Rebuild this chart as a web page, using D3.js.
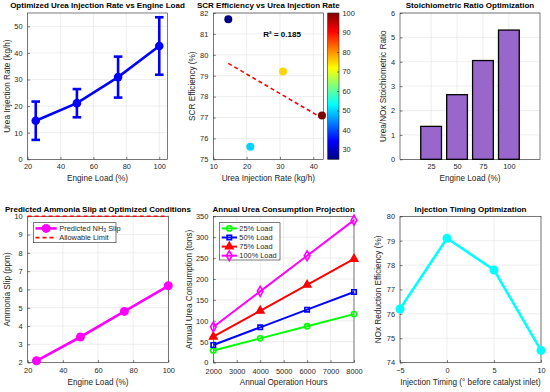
<!DOCTYPE html>
<html>
<head>
<meta charset="utf-8">
<script src="https://cdn.jsdelivr.net/npm/d3@7"></script>
<style>
  body { margin: 0; background: #fff; }
  svg { display: block; font-family: "Liberation Sans", Arial, sans-serif; }
</style>
</head>
<body>
<div id="fig"></div>
<script>
// data
const loads = [25, 50, 75, 100];
const ureaRate = [14.5, 21.1, 30.9, 42.6];
const ureaErr = [7.2, 5.3, 7.7, 10.8];
const scrEff = [81.7, 75.6, 79.2, 77.1];
const stoichRatio = [1.35, 2.65, 4.05, 5.3];
const nh3Slip = [2.1, 3.4, 4.8, 6.2];
const slipLimit = 10;
const opHours = [2000, 4000, 6000, 8000];
const cons25 = [29, 58, 87, 116];
const cons50 = [42.2, 84.4, 126.6, 168.8];
const cons75 = [62, 124, 186, 248];
const cons100 = [85.2, 170.4, 255.6, 340.8];
const timing = [-5, 0, 5, 10];
const timingEff = [76.2, 79.1, 77.8, 74.5];

const W = 550, H = 392;
const svg = d3.select('#fig').append('svg').attr('width', W).attr('height', H);
svg.append('rect').attr('width', W).attr('height', H).attr('fill', '#fff');

const axisCol = '#262626', gridCol = '#e3e3e3';

// one MATLAB-like axes box
function panel(o) {
  const g = svg.append('g');
  const x = d3.scaleLinear().domain(o.xDom).range([o.left, o.left + o.w]);
  const y = d3.scaleLinear().domain(o.yDom).range([o.top + o.h, o.top]);

  g.selectAll('line.gx').data(o.xTicks).join('line')
    .attr('x1', d => x(d)).attr('x2', d => x(d))
    .attr('y1', o.top).attr('y2', o.top + o.h)
    .attr('stroke', gridCol).attr('stroke-width', 0.6);
  g.selectAll('line.gy').data(o.yTicks).join('line')
    .attr('y1', d => y(d)).attr('y2', d => y(d))
    .attr('x1', o.left).attr('x2', o.left + o.w)
    .attr('stroke', gridCol).attr('stroke-width', 0.6);

  const ax = g.append('g').attr('transform', `translate(0,${o.top + o.h})`)
    .call(d3.axisBottom(x).tickValues(o.xTicks).tickFormat(o.xFmt || (d => d))
      .tickSizeInner(-2.5).tickSizeOuter(0).tickPadding(o.xPad || 4.8));
  const ay = g.append('g').attr('transform', `translate(${o.left},0)`)
    .call(d3.axisLeft(y).tickValues(o.yTicks).tickFormat(d => d)
      .tickSizeInner(-2.5).tickSizeOuter(0).tickPadding(5));
  [ax, ay].forEach(a => {
    a.select('.domain').remove();
    a.attr('font-family', null);
    a.selectAll('line').attr('stroke', axisCol).attr('stroke-width', 0.6);
    a.selectAll('text').attr('fill', axisCol).attr('font-size', 7.4);
  });

  g.append('rect').attr('x', o.left).attr('y', o.top).attr('width', o.w).attr('height', o.h)
    .attr('fill', 'none').attr('stroke', axisCol).attr('stroke-width', 0.6);

  svg.append('text').attr('x', o.left + o.w / 2).attr('y', o.top - 4.6)
    .attr('text-anchor', 'middle').attr('font-size', 8).attr('font-weight', 'bold')
    .attr('fill', '#000').text(o.title);
  svg.append('text').attr('x', o.left + o.w / 2).attr('y', o.top + o.h + 22)
    .attr('text-anchor', 'middle').attr('font-size', 8.2).attr('fill', axisCol).text(o.xLabel);
  svg.append('text')
    .attr('transform', `translate(${o.left - o.yLabOff},${o.top + o.h / 2}) rotate(-90)`)
    .attr('text-anchor', 'middle').attr('font-size', 8.2).attr('fill', axisCol).text(o.yLabel);

  const plot = svg.append('g');
  return {x, y, g: plot};
}

const topY = 13, botY = 216.3, ph = 146.3;
const line = (x, y) => d3.line().x(d => x(d[0])).y(d => y(d[1]));

// 1. urea injection rate with error bars
{
  const p = panel({left: 27.5, top: topY, w: 140, h: ph, xDom: [20, 105], yDom: [0, 55],
    xTicks: [20, 40, 60, 80, 100], yTicks: [0, 10, 20, 30, 40, 50],
    title: 'Optimized Urea Injection Rate vs Engine Load', xLabel: 'Engine Load (%)',
    yLabel: 'Urea Injection Rate (kg/h)', yLabOff: 17.5});
  const pts = loads.map((l, i) => [l, ureaRate[i], ureaErr[i]]);
  const c = '#0000ff';
  p.g.append('path').datum(pts).attr('d', line(p.x, p.y)).attr('fill', 'none')
    .attr('stroke', c).attr('stroke-width', 2.6);
  const eb = p.g.selectAll('g.eb').data(pts).join('g');
  eb.append('line').attr('x1', d => p.x(d[0])).attr('x2', d => p.x(d[0]))
    .attr('y1', d => p.y(d[1] - d[2])).attr('y2', d => p.y(d[1] + d[2]))
    .attr('stroke', c).attr('stroke-width', 2.6);
  [-1, 1].forEach(s => eb.append('line')
    .attr('x1', d => p.x(d[0]) - 4.3).attr('x2', d => p.x(d[0]) + 4.3)
    .attr('y1', d => p.y(d[1] + s * d[2])).attr('y2', d => p.y(d[1] + s * d[2]))
    .attr('stroke', c).attr('stroke-width', 2.6));
  eb.append('circle').attr('cx', d => p.x(d[0])).attr('cy', d => p.y(d[1])).attr('r', 4.3)
    .attr('fill', c);
}

// 2. SCR efficiency scatter with colorbar and trend
{
  const p = panel({left: 213.3, top: topY, w: 110, h: ph, xDom: [10, 43], yDom: [75, 82],
    xTicks: [10, 20, 30, 40], yTicks: [75, 76, 77, 78, 79, 80, 81, 82],
    title: 'SCR Efficiency vs Urea Injection Rate', xLabel: 'Urea Injection Rate (kg/h)',
    yLabel: 'SCR Efficiency (%)', yLabOff: 18.3});
  const jetStops = [0, 0.125, 0.375, 0.625, 0.875, 1];
  const jetCols = ['#000080', '#0000ff', '#00ffff', '#ffff00', '#ff0000', '#800000'];
  const jet = d3.scaleLinear().domain(jetStops).range(jetCols);
  const cScale = d3.scaleLinear().domain([25, 100]).range([0, 1]);
  const pts = ureaRate.map((r, i) => [r, scrEff[i], loads[i]]);

  // least squares trend from the points
  const mx = d3.mean(ureaRate), my = d3.mean(scrEff);
  const sxy = d3.sum(pts, d => (d[0] - mx) * (d[1] - my));
  const sxx = d3.sum(pts, d => (d[0] - mx) ** 2);
  const syy = d3.sum(pts, d => (d[1] - my) ** 2);
  const k = sxy / sxx, r2 = sxy * sxy / (sxx * syy);
  const ext = d3.extent(ureaRate);
  p.g.append('path').datum(ext.map(v => [v, my + k * (v - mx)]))
    .attr('d', line(p.x, p.y)).attr('stroke', '#ff0000').attr('stroke-width', 1.6)
    .attr('stroke-dasharray', '4,3').attr('fill', 'none');
  p.g.selectAll('circle').data(pts).join('circle')
    .attr('cx', d => p.x(d[0])).attr('cy', d => p.y(d[1])).attr('r', 4)
    .attr('fill', d => jet(cScale(d[2])));
  p.g.append('text').attr('x', p.x(25)).attr('y', p.y(81)).attr('dy', '0.35em')
    .attr('font-size', 8).attr('font-weight', 'bold').attr('fill', '#000')
    .text('R² = ' + d3.format('.3f')(r2));

  // colorbar
  const cbX = 327.7, cbW = 11.3;
  const cbY = d3.scaleLinear().domain([25, 100]).range([topY + ph, topY]);
  const grad = svg.append('defs').append('linearGradient').attr('id', 'jet')
    .attr('x1', 0).attr('x2', 0).attr('y1', 1).attr('y2', 0);
  grad.selectAll('stop').data(jetStops).join('stop')
    .attr('offset', d => d).attr('stop-color', (d, i) => jetCols[i]);
  svg.append('rect').attr('x', cbX).attr('y', topY).attr('width', cbW).attr('height', ph)
    .attr('fill', 'url(#jet)').attr('stroke', axisCol).attr('stroke-width', 0.6);
  const cb = svg.append('g').attr('transform', `translate(${cbX + cbW},0)`)
    .call(d3.axisRight(cbY).tickValues([30, 40, 50, 60, 70, 80, 90, 100])
      .tickSizeInner(-2).tickSizeOuter(0).tickPadding(3.5));
  cb.select('.domain').remove();
  cb.attr('font-family', null);
  cb.selectAll('line').attr('stroke', axisCol).attr('stroke-width', 0.6);
  cb.selectAll('text').attr('fill', axisCol).attr('font-size', 7.4);
}

// 3. stoichiometric ratio bars
{
  const p = panel({left: 400, top: topY, w: 140, h: ph, xDom: [-5, 130], yDom: [0, 6],
    xTicks: loads, yTicks: [0, 1, 2, 3, 4, 5, 6],
    title: 'Stoichiometric Ratio Optimization', xLabel: 'Engine Load (%)',
    yLabel: 'Urea/NOx Stoichiometric Ratio', yLabOff: 14.3});
  const bw = p.x(20) - p.x(0);
  p.g.selectAll('rect').data(loads.map((l, i) => [l, stoichRatio[i]])).join('rect')
    .attr('x', d => p.x(d[0]) - bw / 2).attr('width', bw)
    .attr('y', d => p.y(d[1])).attr('height', d => p.y(0) - p.y(d[1]))
    .attr('fill', '#9966cc').attr('stroke', '#000').attr('stroke-width', 1.3);
}

// 4. ammonia slip
{
  const p = panel({left: 27.7, top: botY, w: 140.6, h: ph, xDom: [20, 100], yDom: [2, 10],
    xTicks: [20, 40, 60, 80, 100], yTicks: [2, 3, 4, 5, 6, 7, 8, 9, 10],
    title: 'Predicted Ammonia Slip at Optimized Conditions', xLabel: 'Engine Load (%)',
    yLabel: 'Ammonia Slip (ppm)', yLabOff: 17.7});
  const c = '#ff00ff';
  p.g.append('line').attr('x1', p.x(20)).attr('x2', p.x(100))
    .attr('y1', p.y(slipLimit)).attr('y2', p.y(slipLimit))
    .attr('stroke', '#ff0000').attr('stroke-width', 1.6).attr('stroke-dasharray', '4,3');
  const pts = loads.map((l, i) => [l, nh3Slip[i]]);
  p.g.append('path').datum(pts).attr('d', line(p.x, p.y)).attr('fill', 'none')
    .attr('stroke', c).attr('stroke-width', 2.6);
  p.g.selectAll('circle').data(pts).join('circle')
    .attr('cx', d => p.x(d[0])).attr('cy', d => p.y(d[1])).attr('r', 4.5).attr('fill', c);

  const lg = svg.append('g');
  lg.append('rect').attr('x', 33.3).attr('y', 222.7).attr('width', 82.7).attr('height', 20)
    .attr('fill', '#fff').attr('stroke', axisCol).attr('stroke-width', 0.6);
  lg.append('line').attr('x1', 35.5).attr('x2', 56.7).attr('y1', 228.4).attr('y2', 228.4)
    .attr('stroke', c).attr('stroke-width', 2.6);
  lg.append('circle').attr('cx', 46.1).attr('cy', 228.4).attr('r', 4.5).attr('fill', c);
  lg.append('line').attr('x1', 35.5).attr('x2', 56.7).attr('y1', 237.6).attr('y2', 237.6)
    .attr('stroke', '#ff0000').attr('stroke-width', 1.6).attr('stroke-dasharray', '4,3');
  const t1 = lg.append('text').attr('x', 59.3).attr('y', 228.4).attr('dy', '0.35em')
    .attr('font-size', 7.4).attr('fill', axisCol);
  t1.append('tspan').text('Predicted NH');
  t1.append('tspan').attr('font-size', 5.2).attr('dy', '0.15em').text('3');
  t1.append('tspan').attr('dy', '-0.15em').text(' Slip');
  lg.append('text').attr('x', 59.3).attr('y', 237.6).attr('dy', '0.35em')
    .attr('font-size', 7.4).attr('fill', axisCol).text('Allowable Limit');
}

// 5. annual consumption
{
  const p = panel({left: 213.3, top: botY, w: 140.7, h: ph, xDom: [2000, 8000], yDom: [0, 350],
    xTicks: [2000, 3000, 4000, 5000, 6000, 7000, 8000], yTicks: [0, 50, 100, 150, 200, 250, 300, 350],
    xPad: 6.2,
    title: 'Annual Urea Consumption Projection', xLabel: 'Annual Operation Hours',
    yLabel: 'Annual Urea Consumption (tons)', yLabOff: 21.3});
  const series = [
    {name: '25% Load', vals: cons25, c: '#00ff00', m: 'circle'},
    {name: '50% Load', vals: cons50, c: '#0000ff', m: 'square'},
    {name: '75% Load', vals: cons75, c: '#ff0000', m: 'triangle'},
    {name: '100% Load', vals: cons100, c: '#ff00ff', m: 'diamond'}
  ];
  const sym = {
    circle: d3.symbol(d3.symbolCircle, 22)(),
    square: d3.symbol(d3.symbolSquare, 20)(),
    triangle: d3.symbol(d3.symbolTriangle, 24)(),
    diamond: d3.symbol(d3.symbolDiamond, 28)()
  };
  const drawMark = (sel, s) => sel.attr('d', sym[s.m])
    .attr('fill', s.m === 'triangle' ? s.c : 'none').attr('stroke', s.c).attr('stroke-width', 1.6);
  series.forEach(s => {
    const pts = opHours.map((h, i) => [h, s.vals[i]]);
    p.g.append('path').datum(pts).attr('d', line(p.x, p.y)).attr('fill', 'none')
      .attr('stroke', s.c).attr('stroke-width', 2);
    p.g.selectAll(null).data(pts).join('path')
      .attr('transform', d => `translate(${p.x(d[0])},${p.y(d[1])})`)
      .call(drawMark, s);
  });
  const lg = svg.append('g');
  lg.append('rect').attr('x', 219.3).attr('y', 222.7).attr('width', 60.7).attr('height', 37.3)
    .attr('fill', '#fff').attr('stroke', axisCol).attr('stroke-width', 0.6);
  series.forEach((s, i) => {
    const yy = 228.4 + i * 9.1;
    lg.append('line').attr('x1', 221.7).attr('x2', 237).attr('y1', yy).attr('y2', yy)
      .attr('stroke', s.c).attr('stroke-width', 2);
    lg.append('path').attr('transform', `translate(229.3,${yy})`).call(drawMark, s);
    lg.append('text').attr('x', 239.3).attr('y', yy).attr('dy', '0.35em')
      .attr('font-size', 7.4).attr('fill', axisCol).text(s.name);
  });
}

// 6. injection timing
{
  const p = panel({left: 400, top: botY, w: 141, h: ph, xDom: [-5, 10], yDom: [74, 80],
    xTicks: [-5, 0, 5, 10], xFmt: d => d < 0 ? '\u2212' + (-d) : d,
    yTicks: [74, 75, 76, 77, 78, 79, 80],
    title: 'Injection Timing Optimization', xLabel: 'Injection Timing (° before catalyst inlet)',
    yLabel: 'NOx Reduction Efficiency (%)', yLabOff: 19.3});
  const c = '#00ffff';
  const pts = timing.map((t, i) => [t, timingEff[i]]);
  p.g.append('path').datum(pts).attr('d', line(p.x, p.y)).attr('fill', 'none')
    .attr('stroke', c).attr('stroke-width', 2.6);
  p.g.selectAll('circle').data(pts).join('circle')
    .attr('cx', d => p.x(d[0])).attr('cy', d => p.y(d[1])).attr('r', 4.5).attr('fill', c);
}
</script>
</body>
</html>
